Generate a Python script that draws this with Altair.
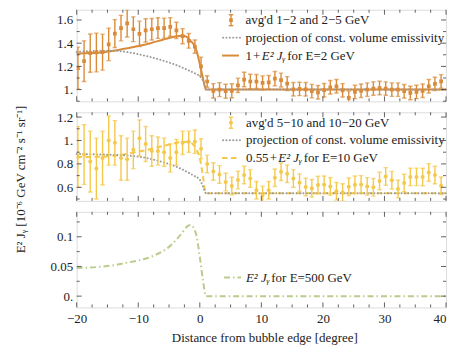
import altair as alt
import pandas as pd

FONT = "Liberation Serif"
TXT = "#222222"
FRAME = "#3a3a3a"
ORANGE = "#D98B3A"
YELLOW = "#F4C84A"
GREEN = "#B9CC8C"
GRAY = "#9B9B9B"

W = 371
H1, H2, H3 = 92, 89, 96
X_DOM = [-20, 40]
Y1_DOM = [0.899, 1.688]
Y2_DOM = [0.484, 1.241]
Y3_DOM = [-0.019, 0.142]

# ---------------- data ----------------
X_PTS = [round(-19.8 + i, 2) for i in range(60)]

TOP_Y = [1.186, 1.245, 1.314, 1.32, 1.323, 1.39, 1.483, 1.53, 1.57, 1.52,
         1.48, 1.51, 1.52, 1.53, 1.53, 1.54, 1.51, 1.46, 1.42, 1.37,
         1.20, 1.07, 0.99, 1.00, 0.986, 0.99, 1.037, 1.087, 1.07, 1.07,
         1.058, 1.062, 1.094, 1.082, 1.052, 1.003, 1.006, 1.003, 0.987, 0.977,
         0.995, 1.02, 1.029, 0.994, 0.929, 0.98, 0.99, 1.0, 1.009, 1.014,
         1.009, 1.0, 1.0, 0.986, 0.971, 0.98, 0.99, 1.029, 1.049, 1.071]
TOP_ERR = [0.18, 0.175, 0.165, 0.167, 0.155, 0.14, 0.12, 0.11, 0.117, 0.107,
           0.11, 0.10, 0.093, 0.089, 0.086, 0.08, 0.07, 0.065, 0.063, 0.057,
           0.08, 0.05, 0.062, 0.06, 0.06, 0.06, 0.062, 0.062, 0.062, 0.06,
           0.06, 0.06, 0.062, 0.06, 0.06, 0.058, 0.058, 0.058, 0.058, 0.058,
           0.058, 0.058, 0.058, 0.058, 0.058, 0.058, 0.058, 0.058, 0.058, 0.058,
           0.058, 0.058, 0.058, 0.058, 0.058, 0.058, 0.058, 0.058, 0.058, 0.058]

MID_Y = [0.86, 0.88, 0.82, 0.76, 0.85, 1.00, 0.98, 0.85, 0.84, 0.92,
         1.02, 0.97, 0.91, 0.91, 0.90, 0.85, 0.90, 0.98, 0.99, 0.99,
         0.93, 0.80, 0.735, 0.71, 0.645, 0.611, 0.662, 0.705, 0.676, 0.575,
         0.535, 0.575, 0.682, 0.733, 0.716, 0.676, 0.64, 0.603, 0.592, 0.62,
         0.622, 0.608, 0.566, 0.556, 0.605, 0.622, 0.625, 0.608, 0.60, 0.654,
         0.693, 0.661, 0.585, 0.637, 0.689, 0.689, 0.688, 0.727, 0.705, 0.613]
MID_ERR = [0.26, 0.255, 0.26, 0.26, 0.23, 0.21, 0.19, 0.19, 0.18, 0.16,
           0.155, 0.15, 0.13, 0.12, 0.12, 0.12, 0.11, 0.10, 0.09, 0.10,
           0.085, 0.075, 0.075, 0.075, 0.075, 0.075, 0.075, 0.075, 0.075, 0.075,
           0.075, 0.075, 0.075, 0.075, 0.075, 0.075, 0.075, 0.075, 0.075, 0.075,
           0.075, 0.075, 0.075, 0.075, 0.075, 0.075, 0.075, 0.075, 0.075, 0.075,
           0.075, 0.075, 0.075, 0.075, 0.075, 0.075, 0.075, 0.075, 0.075, 0.075]

TOP_CURVE_X = [-20, -18, -16, -14, -12, -10, -8, -6, -5, -4, -3, -2.5, -2, -1.5, -1, -0.5, 0, 0.5, 1, 40]
TOP_CURVE_Y = [1.31, 1.315, 1.32, 1.335, 1.355, 1.375, 1.40, 1.43, 1.445, 1.458, 1.465, 1.462,
               1.45, 1.42, 1.39, 1.33, 1.22, 1.10, 1.0, 1.0]
TOP_PROJ_X = [-20, -16, -14, -12, -10, -8, -6, -4, -2, -1, 0, 0.5, 0.8, 1, 40]
TOP_PROJ_Y = [1.325, 1.335, 1.335, 1.325, 1.305, 1.28, 1.25, 1.215, 1.17, 1.145, 1.115, 1.08, 1.04, 1.0, 1.0]

MID_CURVE_X = [-20, -16, -13, -11, -9, -7, -5, -3, -2, -1.5, -1, -0.5, 0, 0.5, 1, 40]
MID_CURVE_Y = [0.858, 0.862, 0.875, 0.895, 0.915, 0.94, 0.965, 0.987, 0.99, 0.983, 0.96, 0.92,
               0.85, 0.70, 0.55, 0.55]
MID_PROJ_X = [-20, -16, -12, -10, -8, -6, -4, -2, -1, 0, 0.5, 1, 40]
MID_PROJ_Y = [0.885, 0.88, 0.872, 0.862, 0.843, 0.815, 0.78, 0.73, 0.70, 0.665, 0.61, 0.55, 0.55]

BOT_CURVE_X = [-20, -18, -16, -14, -12, -10, -8, -6, -5, -4, -3, -2.5, -2, -1.5, -1, -0.5, 0, 0.5, 1, 40]
BOT_CURVE_Y = [0.0475, 0.048, 0.0497, 0.052, 0.056, 0.06, 0.066, 0.076, 0.083, 0.093, 0.105, 0.112,
               0.118, 0.12, 0.115, 0.10, 0.066, 0.028, 0.0, 0.0]

X_MAJOR = [-20, -10, 0, 10, 20, 30, 40]
X_MINOR = [-17.5, -15, -12.5, -7.5, -5, -2.5, 2.5, 5, 7.5, 12.5, 15, 17.5,
           22.5, 25, 27.5, 32.5, 35, 37.5]
Y1_MAJOR = [1.0, 1.2, 1.4, 1.6]
Y1_MINOR = [0.9, 1.1, 1.3, 1.5]
Y2_MAJOR = [0.6, 0.8, 1.0, 1.2]
Y2_MINOR = [0.5, 0.7, 0.9, 1.1]
Y3_MAJOR = [0.0, 0.05, 0.1]
Y3_MINOR = [0.025, 0.075, 0.125]

TOP_LEG = ["avg'd 1\u22122 and 2\u22125 GeV", "projection of const. volume emissivity",
           "1\u200a+\u200a", "E\u00b2 J\u1d67", "for E=2 GeV"]
MID_LEG = ["avg'd 5\u221210 and 10\u221220 GeV", "projection of const. volume emissivity",
           "0.55\u200a+\u200a", "E\u00b2 J\u1d67", "for E=10 GeV"]
BOT_LEG = ["E\u00b2 J\u1d67", "for E=500 GeV"]
Y_TITLE = "E\u00b2 J\u1d67 [10\u207b\u2076 GeV cm\u207b\u00b2 s\u207b\u00b9 sr\u207b\u00b9]"
X_TITLE = "Distance from bubble edge [degree]"

ONE = pd.DataFrame({"a": [0]})
xs = alt.Scale(domain=X_DOM, nice=False, zero=False)


def yaxis(values, expr, title=None, **kw):
    return alt.Axis(values=values, labelExpr=expr, labelFont=FONT, labelFontSize=13,
                    labelColor=TXT, labelPadding=4, ticks=False, domain=False, grid=False,
                    title=title, **kw)


X_AX_BOT = alt.Axis(values=X_MAJOR, title=X_TITLE, labelFont=FONT, labelFontSize=13,
                    labelColor=TXT, labelPadding=5, ticks=False, domain=False, grid=False,
                    labelAlign={"condition": {"test": "datum.value >= 40", "value": "right"},
                                "value": "center"},
                    titleFont=FONT, titleFontSize=13, titleFontWeight="normal",
                    titleColor=TXT, titlePadding=6, titleX=188.5)


class Panel:
    def __init__(self, ys, yax, xax):
        self.ys, self.yax, self.xax = ys, yax, xax

    def X(self, f):
        return alt.X(f"{f}:Q", scale=xs, axis=self.xax)

    def Y(self, f):
        return alt.Y(f"{f}:Q", scale=self.ys, axis=self.yax)


def tick_layers(p, H, ymaj, ymin):
    out = []
    for vals, L in ((X_MAJOR, 5), (X_MINOR, 3)):
        b = alt.Chart(pd.DataFrame({"t": vals})).mark_rule(color=FRAME, strokeWidth=0.8)
        out.append(b.encode(x=p.X("t"), y=alt.value(H), y2=alt.value(H - L)))
        out.append(b.encode(x=p.X("t"), y=alt.value(0), y2=alt.value(L)))
    for vals, L in ((ymaj, 5), (ymin, 3)):
        b = alt.Chart(pd.DataFrame({"t": vals})).mark_rule(color=FRAME, strokeWidth=0.8)
        out.append(b.encode(y=p.Y("t"), x=alt.value(0), x2=alt.value(L)))
        out.append(b.encode(y=p.Y("t"), x=alt.value(W), x2=alt.value(W - L)))
    return out


def text(x, y, s, italic=False):
    return alt.Chart(ONE).mark_text(align="left", baseline="middle", font=FONT, fontSize=13,
                                    fontStyle="italic" if italic else "normal", color=TXT,
                                    text=s).encode(x=alt.value(x), y=alt.value(y))


def hline(x1, x2, y, color, dash=None, width=2.0, cap="butt"):
    kw = dict(color=color, strokeWidth=width, strokeCap=cap)
    if dash:
        kw["strokeDash"] = dash
    return alt.Chart(ONE).mark_rule(**kw).encode(x=alt.value(x1), x2=alt.value(x2), y=alt.value(y))


def points_layers(p, yvals, errs, color, shape):
    df = pd.DataFrame({"x": X_PTS, "y": yvals, "e": errs})
    df["lo"] = df["y"] - df["e"]
    df["hi"] = df["y"] + df["e"]
    base = alt.Chart(df)
    out = [
        base.mark_rule(color=color, strokeWidth=1.4, clip=True).encode(
            x=p.X("x"), y=p.Y("lo"), y2="hi:Q"),
        base.mark_tick(orient="horizontal", size=4.5, thickness=1.4, color=color, clip=True).encode(
            x=p.X("x"), y=p.Y("lo")),
        base.mark_tick(orient="horizontal", size=4.5, thickness=1.4, color=color, clip=True).encode(
            x=p.X("x"), y=p.Y("hi")),
    ]
    if shape == "square":
        out.append(base.mark_square(size=14, color=color, opacity=1, clip=True).encode(
            x=p.X("x"), y=p.Y("y")))
    else:
        out.append(base.mark_circle(size=16, color=color, opacity=1, clip=True).encode(
            x=p.X("x"), y=p.Y("y")))
    return out


def errbar_symbol(x, y, color, shape):
    out = [
        alt.Chart(ONE).mark_rule(color=color, strokeWidth=1.4).encode(
            x=alt.value(x), y=alt.value(y - 5.5), y2=alt.value(y + 5.5)),
        alt.Chart(ONE).mark_rule(color=color, strokeWidth=1.4).encode(
            x=alt.value(x - 2.2), x2=alt.value(x + 2.2), y=alt.value(y - 5.5)),
        alt.Chart(ONE).mark_rule(color=color, strokeWidth=1.4).encode(
            x=alt.value(x - 2.2), x2=alt.value(x + 2.2), y=alt.value(y + 5.5)),
    ]
    if shape == "square":
        out.append(alt.Chart(ONE).mark_square(size=14, color=color, opacity=1).encode(
            x=alt.value(x), y=alt.value(y)))
    else:
        out.append(alt.Chart(ONE).mark_circle(size=16, color=color, opacity=1).encode(
            x=alt.value(x), y=alt.value(y)))
    return out


def curve(p, xv, yv, color, dash=None, cap="butt"):
    kw = dict(color=color, strokeWidth=2, interpolate="monotone", strokeCap=cap)
    if dash:
        kw["strokeDash"] = dash
    return alt.Chart(pd.DataFrame({"x": xv, "y": yv})).mark_line(**kw).encode(
        x=p.X("x"), y=p.Y("y"))


DOT = [0.1, 3.3]
DASH = [5.5, 3.5]
DASHDOT = [6, 3, 1.5, 3]
LAB_EXPR = "datum.value == 1 ? '1.' : format(datum.value, '.1f')"

# white spacer fixing the left extent of the whole figure
spacer = alt.Chart(ONE).mark_rule(color="white", strokeWidth=1).encode(
    x=alt.value(-68), x2=alt.value(-66), y=alt.value(1))

# ---------------- top panel ----------------
p1 = Panel(alt.Scale(domain=Y1_DOM, nice=False, zero=False), yaxis(Y1_MAJOR, LAB_EXPR), None)
top = alt.layer(
    curve(p1, TOP_CURVE_X, TOP_CURVE_Y, ORANGE),
    curve(p1, TOP_PROJ_X, TOP_PROJ_Y, GRAY, DOT, "round"),
    *points_layers(p1, TOP_Y, TOP_ERR, ORANGE, "square"),
    *errbar_symbol(155, 10.5, ORANGE, "square"),
    text(169.5, 10.5, TOP_LEG[0]),
    hline(147, 164, 28, GRAY, DOT, 2, "round"),
    text(169.5, 28, TOP_LEG[1]),
    hline(146, 163, 46, ORANGE),
    text(169.5, 46, TOP_LEG[2]),
    text(186, 46, TOP_LEG[3], italic=True),
    text(211.5, 46, TOP_LEG[4]),
    spacer,
    *tick_layers(p1, H1, Y1_MAJOR, Y1_MINOR),
).properties(width=W, height=H1)

# ---------------- middle panel ----------------
p2 = Panel(alt.Scale(domain=Y2_DOM, nice=False, zero=False),
           yaxis(Y2_MAJOR, LAB_EXPR, title=Y_TITLE, titleFont=FONT, titleFontSize=13,
                 titleFontWeight="normal", titleColor=TXT, titleX=-56.5, titleY=67,
                 titleAngle=270, titleAlign="center", titleBaseline="middle"),
           None)
mid = alt.layer(
    curve(p2, MID_CURVE_X, MID_CURVE_Y, YELLOW, DASH),
    curve(p2, MID_PROJ_X, MID_PROJ_Y, GRAY, DOT, "round"),
    *points_layers(p2, MID_Y, MID_ERR, YELLOW, "circle"),
    *errbar_symbol(155, 10.5, YELLOW, "circle"),
    text(170, 10.5, MID_LEG[0]),
    hline(147, 164, 28, GRAY, DOT, 2, "round"),
    text(170, 28, MID_LEG[1]),
    hline(146, 163, 46, YELLOW, DASH),
    text(170, 46, MID_LEG[2]),
    text(202.5, 46, MID_LEG[3], italic=True),
    text(228, 46, MID_LEG[4]),
    *tick_layers(p2, H2, Y2_MAJOR, Y2_MINOR),
).properties(width=W, height=H2)

# ---------------- bottom panel ----------------
p3 = Panel(alt.Scale(domain=Y3_DOM, nice=False, zero=False),
           yaxis(Y3_MAJOR, "datum.value == 0 ? '0.' : format(datum.value, '~g')"),
           X_AX_BOT)
bot = alt.layer(
    curve(p3, BOT_CURVE_X, BOT_CURVE_Y, GREEN, DASHDOT),
    hline(148, 165, 66, GREEN, DASHDOT),
    text(170, 66, BOT_LEG[0], italic=True),
    text(195.5, 66, BOT_LEG[1]),
    *tick_layers(p3, H3, Y3_MAJOR, Y3_MINOR),
).properties(width=W, height=H3)

chart = alt.vconcat(top, mid, bot, spacing=11, bounds="flush").properties(
    padding={"left": 0, "top": 0, "right": 0, "bottom": 0}
).configure_view(stroke=FRAME, strokeWidth=1).configure(background="white")

chart.save("out.html", embed_options={"renderer": "svg", "actions": False})
